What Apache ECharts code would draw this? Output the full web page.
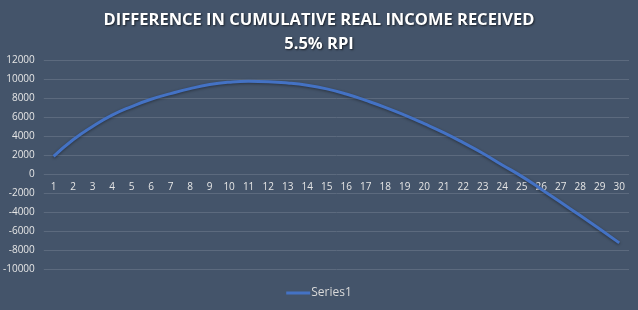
<!DOCTYPE html>
<html>
<head>
<meta charset="utf-8">
<script src="https://cdn.jsdelivr.net/npm/echarts@6/dist/echarts.min.js"></script>
<style>
  html, body { margin: 0; padding: 0; background: #44546a; }
  #chart { width: 638px; height: 310px; }
</style>
</head>
<body>
<div id="chart"></div>
<script>
// 数据
const years = ['1','2','3','4','5','6','7','8','9','10','11','12','13','14','15',
  '16','17','18','19','20','21','22','23','24','25','26','27','28','29','30']
const series1 = [1850, 3600, 5000, 6190, 7100, 7870, 8460, 8990, 9410, 9660,
  9760, 9720, 9580, 9340, 8960, 8420, 7750, 7020, 6200, 5300,
  4350, 3300, 2180, 950, -250, -1600, -2980, -4380, -5800, -7250]
const yTicks = { min: -10000, max: 12000, step: 2000 }

const chart = echarts.init(document.getElementById('chart'), null, { renderer: 'canvas' })

const option = {
  backgroundColor: '#44546a',
  title: {
    text: 'DIFFERENCE IN CUMULATIVE REAL INCOME RECEIVED\n5.5% RPI',
    left: 'center',
    top: 3,
    textStyle: {
      color: '#ffffff',
      fontFamily: 'Open Sans',
      fontWeight: 'bold',
      fontSize: 16.5,
      lineHeight: 24,
      textShadowColor: 'rgba(0,0,0,0.6)',
      textShadowBlur: 2,
      textShadowOffsetX: 1,
      textShadowOffsetY: 1
    }
  },
  grid: { left: 40, right: 9, top: 60, bottom: 41 },
  legend: {
    bottom: 6,
    left: 'center',
    icon: 'rect',
    itemWidth: 24,
    itemHeight: 3,
    itemGap: 0,
    textStyle: { color: '#d9d9d9', fontFamily: 'Open Sans', fontSize: 12, padding: [0, 0, 0, -4] },
    data: ['Series1']
  },
  xAxis: {
    type: 'category',
    data: years,
    boundaryGap: true,
    position: 'bottom',
    // 0 线在网格内的位置：轴标签跟随 0 线
    offset: -95,
    axisLine: { show: false, onZero: false },
    axisTick: { show: false },
    axisLabel: { color: '#e6e6e6', fontFamily: 'Open Sans', fontSize: 10, margin: 8, interval: 0 }
  },
  yAxis: {
    type: 'value',
    min: yTicks.min,
    max: yTicks.max,
    interval: yTicks.step,
    axisLine: { show: false },
    axisTick: { show: false },
    axisLabel: {
      color: '#e6e6e6', fontFamily: 'Open Sans', fontSize: 10, margin: 9,
      formatter: v => String(v)
    },
    splitLine: { lineStyle: { color: '#5c6a7e', width: 1 } }
  },
  series: [
    {
      name: 'Series1',
      type: 'line',
      data: series1,
      smooth: true,
      showSymbol: false,
      symbol: 'none',
      color: '#4472c4',
      lineStyle: {
        width: 3,
        color: '#4472c4',
        shadowColor: 'rgba(0,0,0,0.4)',
        shadowBlur: 3,
        shadowOffsetY: 1
      }
    }
  ]
}

chart.setOption(option)
</script>
</body>
</html>
